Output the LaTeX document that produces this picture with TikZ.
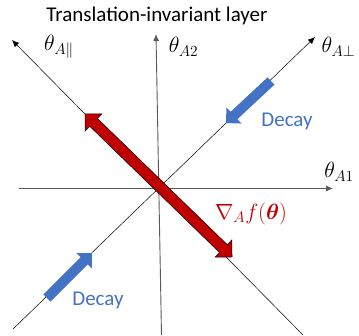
\documentclass[tikz,border=0pt]{standalone}
\usepackage{fix-cm}
\usepackage{amsmath}
\usepackage{fontspec}
\setmainfont{Carlito}
\usetikzlibrary{arrows.meta}
\definecolor{gradred}{HTML}{C00000}
\definecolor{decayblue}{HTML}{4472C4}
\definecolor{axisgray}{HTML}{595959}
\tikzset{
  axisline/.style={draw=axisgray, line width=0.9pt},
  diagline/.style={draw=black, line width=0.5pt},
  tipped/.style={-{Latex[length=7pt,width=6pt]}},
  mathlabel/.style={font=\fontsize{22}{26}\selectfont, inner sep=0pt},
  textlabel/.style={font=\fontsize{21}{25}\selectfont, inner sep=0pt},
  redarrow/.style={fill=gradred, draw=black, line width=0.5pt},
  bluearrow/.style={fill=decayblue, draw=none},
}
\begin{document}
\begin{tikzpicture}[x=1pt,y=-1pt]
\useasboundingbox (0,0) rectangle (359,335);
% axes end points
\coordinate (hL) at (19,188.5);
\coordinate (hR) at (333,188.5);
\coordinate (vB) at (161.5,335);
\coordinate (vT) at (156,34);
\coordinate (pLL) at (13,329);
\coordinate (pUR) at (315,37);
\coordinate (qUL) at (12,40);
\coordinate (qLR) at (303,335);
\draw[axisline,tipped] (hL) -- (hR);
\draw[axisline,tipped] (vB) -- (vT);
\draw[diagline,tipped] (pLL) -- (pUR);
\draw[diagline,tipped] (qLR) -- (qUL);
% gradient double arrow
\begin{scope}[shift={(85,114)}, rotate=-44.2]
\path[redarrow] (0,0) -- (12,12) -- (12,5.5) -- (193.1,5.5) -- (193.1,12) -- (205.1,0)
  -- (193.1,-12) -- (193.1,-5.5) -- (12,-5.5) -- (12,-12) -- cycle;
\end{scope}
% decay arrows
\begin{scope}[shift={(271,81)}, rotate=-137]
\path[bluearrow] (0,-5) -- (50.6,-5) -- (50.6,-11) -- (61.6,0) -- (50.6,11) -- (50.6,5) -- (0,5) -- cycle;
\end{scope}
\begin{scope}[shift={(47,298)}, rotate=45]
\path[bluearrow] (0,-5) -- (52.6,-5) -- (52.6,-11) -- (63.6,0) -- (52.6,11) -- (52.6,5) -- (0,5) -- cycle;
\end{scope}
% labels
\node[textlabel] (title) at (157,16) {Translation-invariant layer};
\node[mathlabel] (lpar) at (59,47) {$\theta_{A\|}$};
\node[mathlabel] (ltwo) at (183.5,47) {$\theta_{A2}$};
\node[mathlabel] (lperp) at (338.5,47) {$\theta_{A\perp}$};
\node[mathlabel] (lone) at (339,172) {$\theta_{A1}$};
\node[mathlabel, text=gradred] (grad) at (251,214) {$\nabla_{A} f(\boldsymbol{\theta})$};
\node[textlabel, text=decayblue] (decayup) at (287,121) {Decay};
\node[textlabel, text=decayblue] (decaylow) at (98,300) {Decay};
\end{tikzpicture}
\end{document}
